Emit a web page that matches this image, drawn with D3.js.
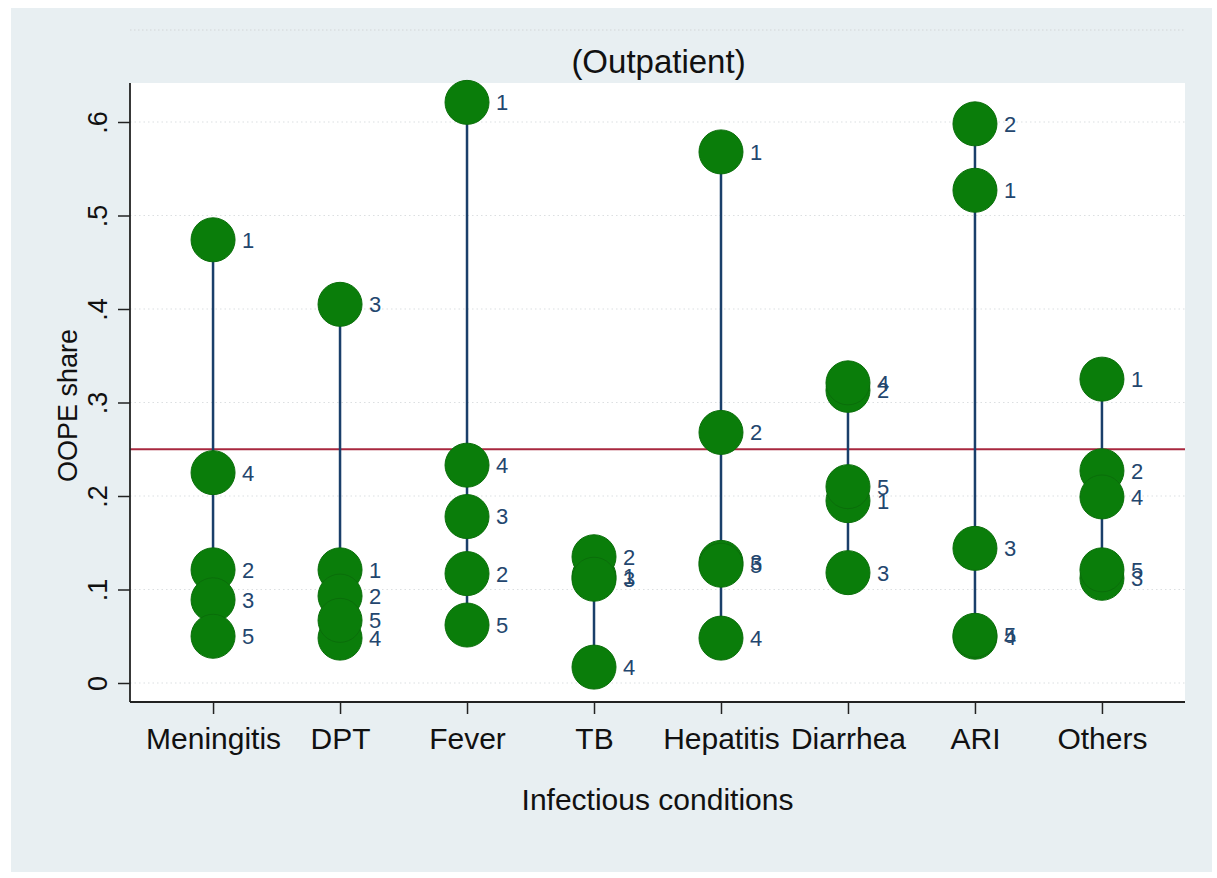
<!DOCTYPE html>
<html>
<head>
<meta charset="utf-8">
<script src="https://cdn.jsdelivr.net/npm/d3@7"></script>
<style>
  html, body { margin: 0; padding: 0; background: #ffffff; }
  svg { display: block; font-family: "Liberation Sans", Arial, sans-serif; }
</style>
</head>
<body>
<svg id="chart" width="1217" height="878"></svg>
<script>
// ---- data ----
const categories = ["Meningitis", "DPT", "Fever", "TB", "Hepatitis", "Diarrhea", "ARI", "Others"];
const groupLabels = ["1", "2", "3", "4", "5"];
const group1 = [0.474, 0.121, 0.621, 0.114, 0.568, 0.195, 0.527, 0.325];
const group2 = [0.121, 0.093, 0.117, 0.135, 0.268, 0.313, 0.598, 0.227];
const group3 = [0.089, 0.405, 0.178, 0.111, 0.129, 0.118, 0.144, 0.112];
const group4 = [0.225, 0.048, 0.233, 0.017, 0.048, 0.321, 0.049, 0.199];
const group5 = [0.050, 0.067, 0.062, null, 0.126, 0.210, 0.051, 0.121];
const yTicks = [0, 0.1, 0.2, 0.3, 0.4, 0.5, 0.6];
const yTickLabels = ["0", ".1", ".2", ".3", ".4", ".5", ".6"];
const referenceLine = 0.25;
const titleText = "(Outpatient)";
const xTitle = "Infectious conditions";
const yTitle = "OOPE share";

// ---- layout ----
const plot = { left: 130, right: 1185, top: 83, bottom: 702 };
const svg = d3.select("#chart");

const groups = [group1, group2, group3, group4, group5];
const points = [];
groups.forEach((arr, gi) => {
  arr.forEach((v, ci) => {
    if (v !== null && v !== undefined) points.push({ cat: categories[ci], value: v, label: groupLabels[gi] });
  });
});

const x = d3.scalePoint().domain(categories).range([plot.left, plot.right]).padding(0.654);
const y = d3.scaleLinear().domain([0, 0.6]).range([683, 122]);

// outer panel
svg.append("rect").attr("x", 11).attr("y", 8).attr("width", 1201).attr("height", 864).attr("fill", "#e8eff2");
// top dotted line
svg.append("line").attr("x1", plot.left).attr("x2", plot.right).attr("y1", 30).attr("y2", 30)
  .attr("stroke", "#d2d6d8").attr("stroke-width", 1.2).attr("stroke-dasharray", "1.5,2.5");
// plot region
svg.append("rect").attr("x", plot.left).attr("y", plot.top)
  .attr("width", plot.right - plot.left).attr("height", plot.bottom - plot.top).attr("fill", "#ffffff");

// gridlines
svg.append("g").selectAll("line").data(yTicks).join("line")
  .attr("x1", plot.left).attr("x2", plot.right)
  .attr("y1", d => y(d)).attr("y2", d => y(d))
  .attr("stroke", "#dcdfe1").attr("stroke-width", 1.2).attr("stroke-dasharray", "1.5,3");

// reference line
svg.append("line").attr("x1", plot.left).attr("x2", plot.right)
  .attr("y1", y(referenceLine)).attr("y2", y(referenceLine))
  .attr("stroke", "#a8283f").attr("stroke-width", 2);

// spikes
const ranges = categories.map((c, ci) => {
  const vals = groups.map(g => g[ci]).filter(v => v !== null && v !== undefined);
  return { cat: c, min: d3.min(vals), max: d3.max(vals) };
});
svg.append("g").selectAll("line").data(ranges).join("line")
  .attr("x1", d => x(d.cat)).attr("x2", d => x(d.cat))
  .attr("y1", d => y(d.min)).attr("y2", d => y(d.max))
  .attr("stroke", "#1a3f6a").attr("stroke-width", 2.5);

// markers
svg.append("g").selectAll("circle").data(points).join("circle")
  .attr("cx", d => x(d.cat)).attr("cy", d => y(d.value)).attr("r", 22)
  .attr("fill", "#0a7d0a").attr("stroke", "#0a6e0a").attr("stroke-width", 1);

// marker labels
svg.append("g").selectAll("text").data(points).join("text")
  .attr("x", d => x(d.cat) + 29).attr("y", d => y(d.value))
  .attr("dy", "0.36em")
  .attr("font-size", 22).attr("fill", "#23466e")
  .text(d => d.label);

// axes
const xAxis = d3.axisBottom(x).tickSize(12).tickPadding(14).tickSizeOuter(0);
const gx = svg.append("g").attr("transform", `translate(0,${plot.bottom})`).call(xAxis);
gx.select(".domain").remove();
gx.selectAll(".tick line").attr("stroke", "#222").attr("stroke-width", 1.5);
gx.selectAll(".tick text").attr("font-size", 30).attr("fill", "#111")
  .attr("font-family", "Liberation Sans, Arial, sans-serif").attr("dy", "0.71em");
svg.append("line").attr("x1", plot.left).attr("x2", plot.right)
  .attr("y1", plot.bottom).attr("y2", plot.bottom).attr("stroke", "#222").attr("stroke-width", 1.8);

const yAxis = d3.axisLeft(y).tickValues(yTicks).tickSize(12).tickFormat((d, i) => yTickLabels[i]);
const gy = svg.append("g").attr("transform", `translate(${plot.left},0)`).call(yAxis);
gy.select(".domain").remove();
gy.selectAll(".tick line").attr("stroke", "#222").attr("stroke-width", 1.5);
gy.selectAll(".tick text")
  .attr("font-size", 27).attr("fill", "#111")
  .attr("font-family", "Liberation Sans, Arial, sans-serif")
  .attr("x", null).attr("dy", null)
  .attr("text-anchor", "middle")
  .attr("transform", "translate(-23,0) rotate(-90)");
svg.append("line").attr("x1", plot.left).attr("x2", plot.left)
  .attr("y1", plot.top).attr("y2", plot.bottom).attr("stroke", "#222").attr("stroke-width", 1.8);

// titles
svg.append("text").attr("x", (plot.left + plot.right) / 2 + 1).attr("y", 73)
  .attr("text-anchor", "middle").attr("font-size", 33).attr("fill", "#111").text(titleText);
svg.append("text").attr("x", (plot.left + plot.right) / 2).attr("y", 810)
  .attr("text-anchor", "middle").attr("font-size", 30).attr("fill", "#111").text(xTitle);
svg.append("text")
  .attr("transform", `translate(77,${(plot.top + plot.bottom) / 2 + 13}) rotate(-90)`)
  .attr("text-anchor", "middle").attr("font-size", 27).attr("fill", "#111").text(yTitle);
</script>
</body>
</html>
